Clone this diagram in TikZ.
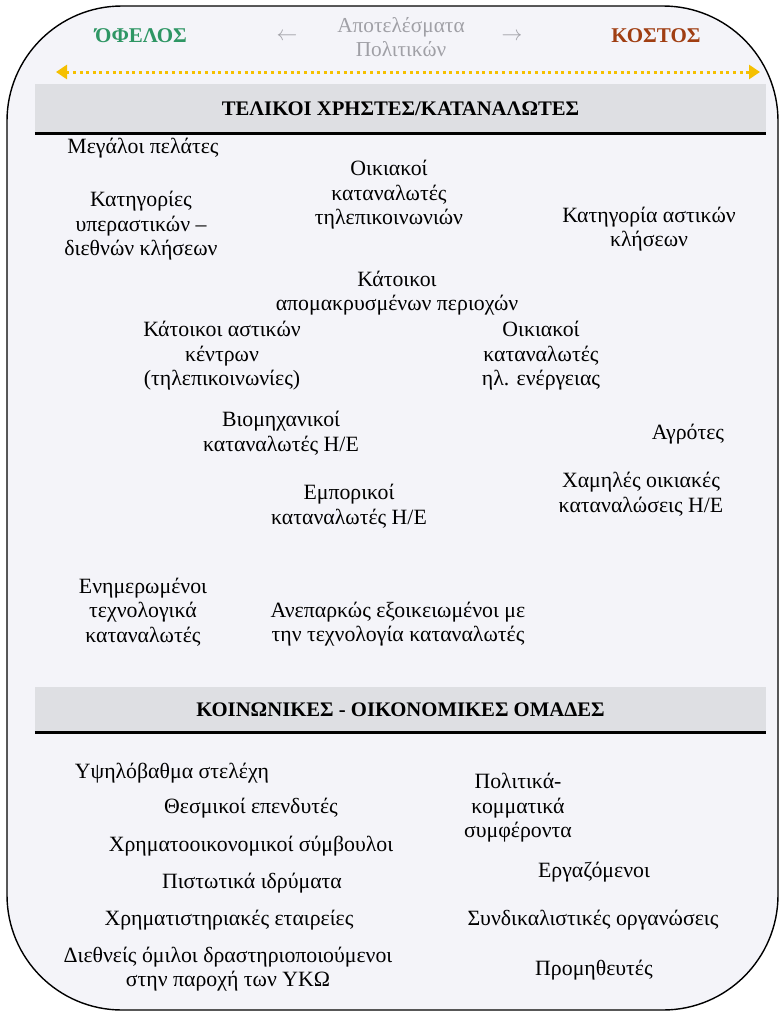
\documentclass[tikz,border=0pt]{standalone}
\usepackage{fontspec}
\setmainfont{Liberation Serif}
\usetikzlibrary{arrows.meta, positioning}

\definecolor{bgfill}{RGB}{244,244,249}
\definecolor{barfill}{RGB}{222,223,227}
\definecolor{ofelgreen}{RGB}{46,150,100}
\definecolor{kostbrown}{RGB}{160,62,18}
\definecolor{arrowgold}{RGB}{245,192,0}
\definecolor{softgray}{RGB}{160,160,166}

\begin{document}
\begin{tikzpicture}[x=1pt,y=-1pt,
                    txt/.style={align=center,inner sep=0pt,
                                font=\fontsize{21.8}{24.5}\selectfont},
                    bar/.style={fill=barfill,minimum width=731pt,inner sep=0pt,
                                font=\bfseries\fontsize{20.7}{24}\selectfont}]
  \tikzstyle{side}=[inner sep=0pt,font=\bfseries\fontsize{21}{24}\selectfont]
  \tikzstyle{hint}=[align=center,inner sep=0pt,text=softgray,
                    font=\fontsize{21.3}{24}\selectfont]

  \useasboundingbox (0,0) rectangle (781,1012);
  \draw[line width=1.4pt, fill=bgfill, rounded corners=115pt] (7,6) rectangle (778,1010);

  % top line: benefit / cost
  \node[side, text=ofelgreen] (ofelos) at (141,36) {ΌΦΕΛΟΣ};
  \node[side, text=kostbrown] (kostos) at (656,36) {ΚΟΣΤΟΣ};
  \node[hint]                 (apot)   at (401,37) {Αποτελέσματα\\Πολιτικών};
  \node[hint]                 (larr)   at (287,37) {$\leftarrow$};
  \node[hint]                 (rarr)   at (512,37) {$\rightarrow$};

  \coordinate (lend) at (56,72);
  \coordinate (rend) at (760,72);
  \draw[arrowgold, line width=3pt, dash pattern=on 3pt off 3.6pt,
        {Triangle[length=11pt,width=14pt]}-{Triangle[length=11pt,width=14pt]}] (lend) -- (rend);

  % end users
  \node[bar, minimum height=49pt] (telikoi) at (400.5,108.5) {ΤΕΛΙΚΟΙ ΧΡΗΣΤΕΣ/ΚΑΤΑΝΑΛΩΤΕΣ};
  \draw[line width=2.6pt] (telikoi.south west) -- (telikoi.south east);

  \node[txt] (megaloi) at (143,148) {Μεγάλοι πελάτες};
  \node[txt] (yperast) at (141,226) {Κατηγορίες\\υπεραστικών –\\διεθνών κλήσεων};
  \node[txt] (oikitel) at (389,195) {Οικιακοί\\καταναλωτές\\τηλεπικοινωνιών};
  \node[txt] (astikes) at (649,229) {Κατηγορία αστικών\\κλήσεων};
  \node[txt] (apomakr) at (397,293) {Κάτοικοι\\απομακρυσμένων περιοχών};
  \node[txt] (kentra)  at (222,356) {Κάτοικοι αστικών\\κέντρων\\(τηλεπικοινωνίες)};
  \node[txt] (oikihe)  at (541,356) {Οικιακοί\\καταναλωτές\\ηλ. ενέργειας};
  \node[txt] (viomix)  at (281,433) {Βιομηχανικοί\\καταναλωτές Η/Ε};
  \node[txt] (agrotes) at (688,434) {Αγρότες};
  \node[txt] (xamiles) at (641,494) {Χαμηλές οικιακές\\καταναλώσεις Η/Ε};
  \node[txt] (empor)   at (349,506) {Εμπορικοί\\καταναλωτές Η/Ε};
  \node[txt] (enimer)  at (143,612) {Ενημερωμένοι\\τεχνολογικά\\καταναλωτές};
  \node[txt] (anepark) at (398,624) {Ανεπαρκώς εξοικειωμένοι με\\την τεχνολογία καταναλωτές};

  % socio-economic groups
  \node[bar, minimum height=46pt] (omades) at (400.5,709.5) {ΚΟΙΝΩΝΙΚΕΣ - ΟΙΚΟΝΟΜΙΚΕΣ ΟΜΑΔΕΣ};
  \draw[line width=2.6pt] (omades.south west) -- (omades.south east);

  \node[txt] (ypsil)   at (172,773) {Υψηλόβαθμα στελέχη};
  \node[txt] (thesm)   at (251,808) {Θεσμικοί επενδυτές};
  \node[txt] (xrimsym) at (251,846) {Χρηματοοικονομικοί σύμβουλοι};
  \node[txt] (pistot)  at (252,883) {Πιστωτικά ιδρύματα};
  \node[txt] (xrimet)  at (229,920) {Χρηματιστηριακές εταιρείες};
  \node[txt] (diethn)  at (228,969) {Διεθνείς όμιλοι δραστηριοποιούμενοι\\στην παροχή των ΥΚΩ};
  \node[txt] (politik) at (518,808) {Πολιτικά-\\κομματικά\\συμφέροντα};
  \node[txt] (ergaz)   at (594,872) {Εργαζόμενοι};
  \node[txt] (syndik)  at (593,920) {Συνδικαλιστικές οργανώσεις};
  \node[txt] (promith) at (594,970) {Προμηθευτές};
\end{tikzpicture}
\end{document}
